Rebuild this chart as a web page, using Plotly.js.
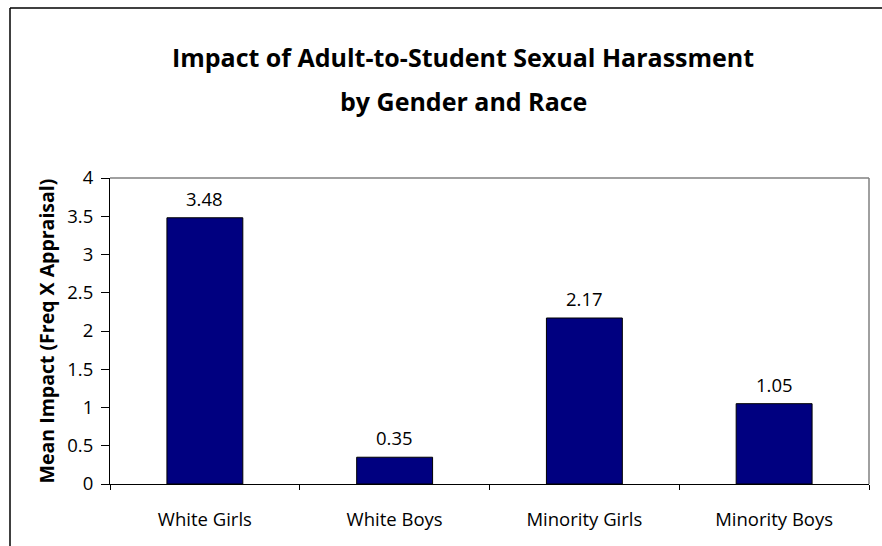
<!DOCTYPE html>
<html>
<head>
<meta charset="utf-8">
<script src="https://cdn.plot.ly/plotly-3.0.1.min.js"></script>
<style>html,body{margin:0;padding:0;background:#fff;}#chart{width:882px;height:546px;}</style>
</head>
<body>
<div id="chart"></div>
<script>
const categories = ["White Girls", "White Boys", "Minority Girls", "Minority Boys"];
const meanImpact = [3.48, 0.35, 2.17, 1.05];
const valueLabels = ["3.48", "0.35", "2.17", "1.05"];
const yTickVals = [0, 0.5, 1, 1.5, 2, 2.5, 3, 3.5, 4];
const yTickText = ["0", "0.5", "1", "1.5", "2", "2.5", "3", "3.5", "4"];
const titleLines = ["Impact of Adult-to-Student Sexual Harassment", "by Gender and Race"];

const W = 882, H = 546;
const M = {l: 110, r: 13, t: 178, b: 62};
const pw = W - M.l - M.r, ph = H - M.t - M.b;
const px = v => (v - M.l) / pw;
const py = v => (H - M.b - v) / ph;

const FONT = "'Open Sans', sans-serif";
const FS = 18.5;
const TFS = 25;
const YTFS = 19.5;

const trace = {
  type: "bar",
  x: categories,
  y: meanImpact,
  marker: {color: "#000080", line: {color: "#000", width: 1}},
  width: 0.4,
  hoverinfo: "x+y"
};

const valueAnnotations = categories.map((c, i) => ({
  x: c, y: meanImpact[i], xref: "x", yref: "y",
  text: valueLabels[i], showarrow: false,
  yanchor: "bottom", yshift: 5,
  font: {family: FONT, size: FS, color: "#000"}
}));

const layout = {
  width: W, height: H,
  margin: M,
  paper_bgcolor: "#fff",
  plot_bgcolor: "#fff",
  showlegend: false,
  font: {family: FONT, size: FS, color: "#000"},
  title: {
    text: "<b>" + titleLines[0] + "</b>",
    font: {family: FONT, size: TFS, color: "#000"},
    x: 463 / W, xref: "container", xanchor: "center",
    y: 1 - 58 / H, yref: "container", yanchor: "middle"
  },
  xaxis: {
    type: "category",
    showline: true, linecolor: "#000", linewidth: 1,
    ticks: "outside", tickson: "boundaries", ticklen: 5, tickcolor: "#000",
    ticklabelstandoff: 19,
    showgrid: false, zeroline: false,
    tickfont: {family: FONT, size: FS, color: "#000"}
  },
  yaxis: {
    range: [0, 4],
    tickvals: yTickVals, ticktext: yTickText,
    showline: true, linecolor: "#000", linewidth: 1,
    ticks: "outside", ticklen: 8, tickcolor: "#000",
    ticklabelstandoff: 4,
    showgrid: false, zeroline: false,
    tickfont: {family: FONT, size: FS, color: "#000"},
    title: {text: "<b>" + "Mean Impact (Freq X Appraisal)" + "</b>", font: {family: FONT, size: YTFS, color: "#000"}, standoff: 7}
  },
  annotations: valueAnnotations.concat([
    {xref: "paper", yref: "paper", x: px(463), y: py(101), xanchor: "center", yanchor: "middle",
     text: "<b>" + titleLines[1] + "</b>", showarrow: false,
     font: {family: FONT, size: TFS, color: "#000"}}
  ]),
  shapes: [
    {type: "line", xref: "paper", yref: "paper", x0: 0, x1: 1, y0: 1, y1: 1, line: {color: "#808080", width: 1.5}},
    {type: "line", xref: "paper", yref: "paper", x0: 1, x1: 1, y0: 0, y1: 1, line: {color: "#808080", width: 1.5}},
    {type: "line", xref: "paper", yref: "paper", x0: px(10), x1: px(890), y0: py(8), y1: py(8), line: {color: "#000", width: 1.5}},
    {type: "line", xref: "paper", yref: "paper", x0: px(10), x1: px(10), y0: py(8), y1: py(560), line: {color: "#000", width: 1.5}}
  ]
};

Plotly.newPlot("chart", [trace], layout, {displayModeBar: false, staticPlot: true});
</script>
</body>
</html>
